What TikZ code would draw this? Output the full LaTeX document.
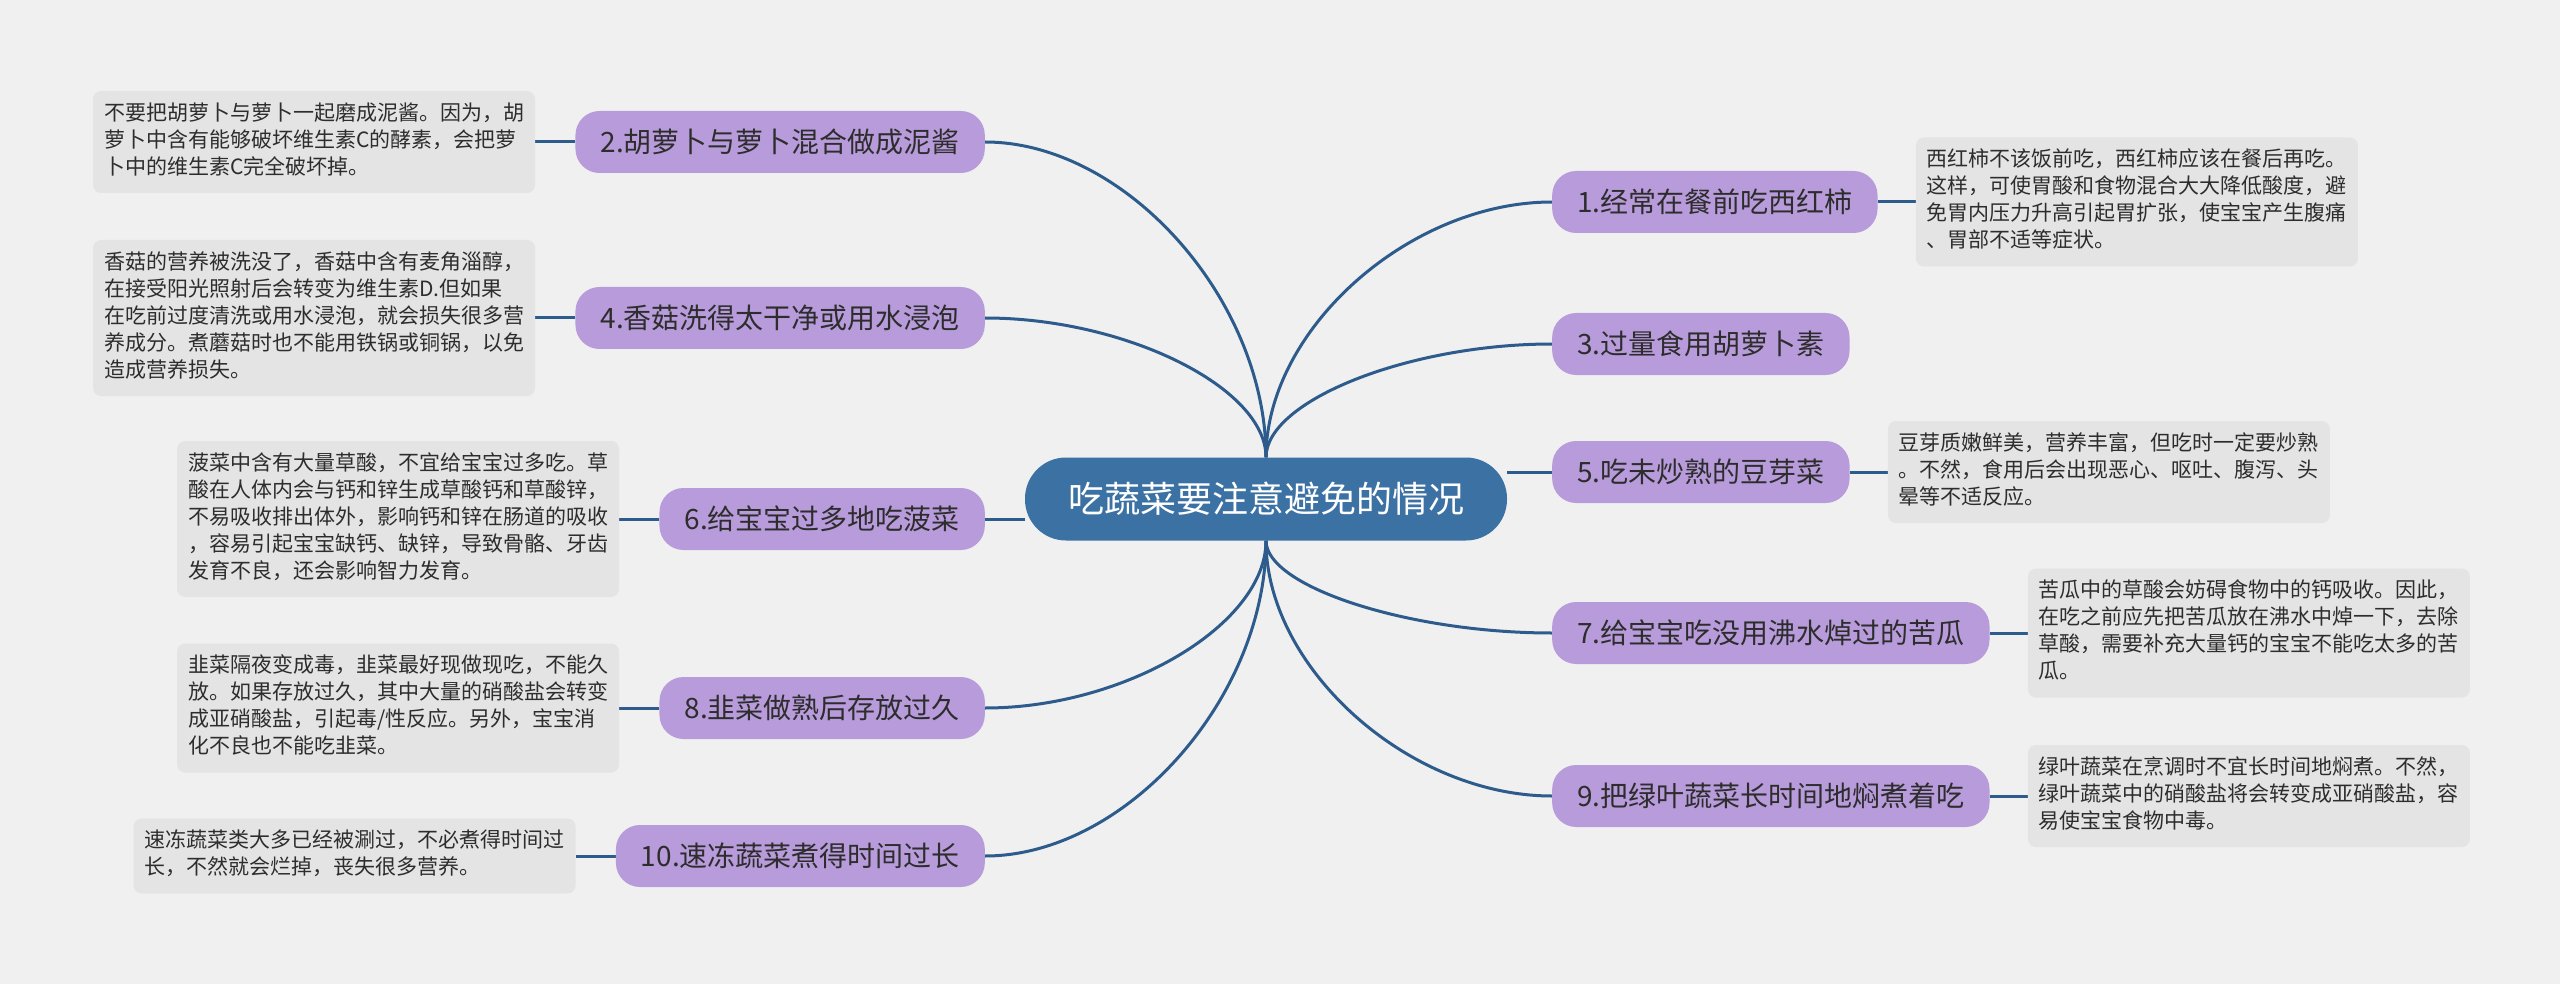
\documentclass[tikz,border=0pt]{standalone}
\usepackage{fontspec}
\newfontfamily\cjk{Noto Sans CJK SC}
\usetikzlibrary{calc}
\pgfdeclarelayer{back}
\pgfdeclarelayer{links}
\pgfsetlayers{back,links,main}
\definecolor{bgc}{RGB}{240,240,240}
\definecolor{notefill}{RGB}{228,228,228}
\definecolor{topicfill}{RGB}{184,155,218}
\definecolor{rootfill}{RGB}{60,113,164}
\definecolor{linkc}{RGB}{45,92,140}
\definecolor{textc}{RGB}{45,45,45}
\tikzset{
  topic/.style={rounded corners=24pt, fill=topicfill, inner xsep=25pt, inner ysep=0pt, minimum height=62pt, font=\cjk\fontsize{28}{34}\selectfont, text=textc},
  rootnode/.style={rounded corners=41pt, fill=rootfill, inner xsep=43pt, inner ysep=0pt, minimum height=83pt, font=\cjk\fontsize{36}{42}\selectfont, text=white},
  note/.style={rounded corners=8pt, fill=notefill, inner xsep=11pt, inner ysep=10.5pt, align=left, font=\cjk\fontsize{21}{27}\selectfont, text=textc},
  link/.style={draw=linkc, line width=3pt},
}
\newcommand\curvelink[2]{\draw[link] (#1) .. controls ($(#1)!0.5!(#1|-#2)$) and ($(#1|-#2)!0.5!(#2)$) .. (#2);}
\begin{document}
\begin{tikzpicture}[x=1pt,y=-1pt]
\useasboundingbox (0,0) rectangle (2560,984);
\begin{pgfonlayer}{back}
\fill[bgc] (0,0) rectangle (2560,984);
\end{pgfonlayer}

\node[rootnode] (root) at (1266,499) {吃蔬菜要注意避免的情况};

% left topics
\node[topic, anchor=east] (n2) at (985,142) {2.胡萝卜与萝卜混合做成泥酱};
\node[topic, anchor=east] (n4) at (985,318) {4.香菇洗得太干净或用水浸泡};
\node[topic, anchor=east] (n6) at (985,519) {6.给宝宝过多地吃菠菜};
\node[topic, anchor=east] (n8) at (985,708) {8.韭菜做熟后存放过久};
\node[topic, anchor=east] (n10) at (985,856) {10.速冻蔬菜煮得时间过长};

% right topics
\node[topic, anchor=west] (n1) at (1552,202) {1.经常在餐前吃西红柿};
\node[topic, anchor=west] (n3) at (1552,344) {3.过量食用胡萝卜素};
\node[topic, anchor=west] (n5) at (1552,472) {5.吃未炒熟的豆芽菜};
\node[topic, anchor=west] (n7) at (1552,633) {7.给宝宝吃没用沸水焯过的苦瓜};
\node[topic, anchor=west] (n9) at (1552,796) {9.把绿叶蔬菜长时间地焖煮着吃};

% notes
\node[note, anchor=east] (d2) at ($(n2.west)+(-40,0)$) {\strut 不要把胡萝卜与萝卜一起磨成泥酱。因为，胡\\\strut 萝卜中含有能够破坏维生素C的酵素，会把萝\\\strut 卜中的维生素C完全破坏掉。};
\node[note, anchor=east] (d4) at ($(n4.west)+(-40,0)$) {\strut 香菇的营养被洗没了，香菇中含有麦角淄醇，\\\strut 在接受阳光照射后会转变为维生素D.但如果\\\strut 在吃前过度清洗或用水浸泡，就会损失很多营\\\strut 养成分。煮蘑菇时也不能用铁锅或铜锅，以免\\\strut 造成营养损失。};
\node[note, anchor=east] (d6) at ($(n6.west)+(-40,0)$) {\strut 菠菜中含有大量草酸，不宜给宝宝过多吃。草\\\strut 酸在人体内会与钙和锌生成草酸钙和草酸锌，\\\strut 不易吸收排出体外，影响钙和锌在肠道的吸收\\\strut ，容易引起宝宝缺钙、缺锌，导致骨骼、牙齿\\\strut 发育不良，还会影响智力发育。};
\node[note, anchor=east] (d8) at ($(n8.west)+(-40,0)$) {\strut 韭菜隔夜变成毒，韭菜最好现做现吃，不能久\\\strut 放。如果存放过久，其中大量的硝酸盐会转变\\\strut 成亚硝酸盐，引起毒/性反应。另外，宝宝消\\\strut 化不良也不能吃韭菜。};
\node[note, anchor=east] (d10) at ($(n10.west)+(-40,0)$) {\strut 速冻蔬菜类大多已经被涮过，不必煮得时间过\\\strut 长，不然就会烂掉，丧失很多营养。};
\node[note, anchor=west] (d1) at ($(n1.east)+(38,0)$) {\strut 西红柿不该饭前吃，西红柿应该在餐后再吃。\\\strut 这样，可使胃酸和食物混合大大降低酸度，避\\\strut 免胃内压力升高引起胃扩张，使宝宝产生腹痛\\\strut 、胃部不适等症状。};
\node[note, anchor=west] (d5) at ($(n5.east)+(38,0)$) {\strut 豆芽质嫩鲜美，营养丰富，但吃时一定要炒熟\\\strut 。不然，食用后会出现恶心、呕吐、腹泻、头\\\strut 晕等不适反应。};
\node[note, anchor=west] (d7) at ($(n7.east)+(38,0)$) {\strut 苦瓜中的草酸会妨碍食物中的钙吸收。因此，\\\strut 在吃之前应先把苦瓜放在沸水中焯一下，去除\\\strut 草酸，需要补充大量钙的宝宝不能吃太多的苦\\\strut 瓜。};
\node[note, anchor=west] (d9) at ($(n9.east)+(38,0)$) {\strut 绿叶蔬菜在烹调时不宜长时间地焖煮。不然，\\\strut 绿叶蔬菜中的硝酸盐将会转变成亚硝酸盐，容\\\strut 易使宝宝食物中毒。};

\begin{pgfonlayer}{links}
\curvelink{root.north}{n2.east}
\curvelink{root.north}{n4.east}
\curvelink{root.north}{n1.west}
\curvelink{root.north}{n3.west}
\curvelink{root.south}{n8.east}
\curvelink{root.south}{n10.east}
\curvelink{root.south}{n7.west}
\curvelink{root.south}{n9.west}
\draw[link] (n6.east) -- (n6.east -| root.west);
\draw[link] (n5.west) -- (n5.west -| root.east);
\draw[link] (n2.west) -- (d2.east);
\draw[link] (n4.west) -- (d4.east);
\draw[link] (n6.west) -- (d6.east);
\draw[link] (n8.west) -- (d8.east);
\draw[link] (n10.west) -- (d10.east);
\draw[link] (n1.east) -- (d1.west);
\draw[link] (n5.east) -- (d5.west);
\draw[link] (n7.east) -- (d7.west);
\draw[link] (n9.east) -- (d9.west);
\end{pgfonlayer}
\end{tikzpicture}
\end{document}
